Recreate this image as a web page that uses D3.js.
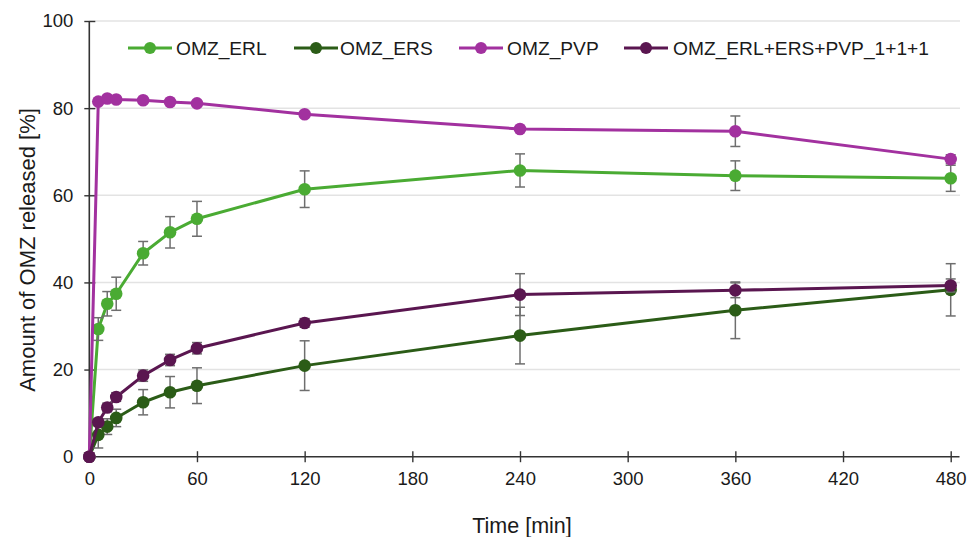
<!DOCTYPE html>
<html>
<head>
<meta charset="utf-8">
<script src="https://cdn.jsdelivr.net/npm/d3@7"></script>
<style>
  html, body { margin: 0; padding: 0; background: #fff; }
  svg { display: block; }
  text { font-family: "Liberation Sans", Arial, sans-serif; fill: #1a1a1a; }
</style>
</head>
<body>
<svg id="chart" width="968" height="537"></svg>
<script>
// ---- data ----
const times = [0, 5, 10, 15, 30, 45, 60, 120, 240, 360, 480];
const seriesNames = ["OMZ_ERL", "OMZ_ERS", "OMZ_PVP", "OMZ_ERL+ERS+PVP_1+1+1"];
const erlValues = [0, 29.3, 35.1, 37.4, 46.7, 51.5, 54.6, 61.4, 65.7, 64.5, 63.9];
const erlErrors = [0, 2.6, 2.8, 3.8, 2.7, 3.6, 4.0, 4.2, 3.8, 3.4, 3.0];
const ersValues = [0, 5.0, 6.9, 8.9, 12.5, 14.8, 16.3, 20.9, 27.8, 33.6, 38.3];
const ersErrors = [0, 3.0, 1.8, 2.0, 2.9, 3.6, 4.1, 5.7, 6.5, 6.5, 6.0];
const pvpValues = [0, 81.5, 82.2, 82.0, 81.8, 81.4, 81.1, 78.6, 75.2, 74.7, 68.3];
const pvpErrors = [0, 0.5, 0.4, 0.4, 0.4, 0.4, 0.4, 0.4, 0.4, 3.5, 1.0];
const mixValues = [0, 7.9, 11.3, 13.7, 18.6, 22.2, 24.9, 30.7, 37.2, 38.2, 39.3];
const mixErrors = [0, 0.8, 1.0, 1.0, 1.3, 1.3, 1.3, 1.0, 4.8, 1.7, 1.5];
const xTicks = [0, 60, 120, 180, 240, 300, 360, 420, 480];
const yTicks = [0, 20, 40, 60, 80, 100];
const xTitle = "Time [min]";
const yTitle = "Amount of OMZ released [%]";

// ---- styling ----
const colors = ["#4aab33", "#2b5c17", "#a2319f", "#5a1650"];
const series = seriesNames.map((name, i) => ({
  name,
  color: colors[i],
  values: [erlValues, ersValues, pvpValues, mixValues][i],
  errors: [erlErrors, ersErrors, pvpErrors, mixErrors][i]
}));

const svg = d3.select("#chart");
const x = d3.scaleLinear().domain([0, 480]).range([89.3, 950.7]);
const y = d3.scaleLinear().domain([0, 100]).range([456.7, 21]);

// gridlines
svg.append("g").selectAll("line")
  .data(yTicks.filter(d => d > 0))
  .join("line")
  .attr("x1", x(0)).attr("x2", 960)
  .attr("y1", d => y(d)).attr("y2", d => y(d))
  .attr("stroke", "#e3e3e3").attr("stroke-width", 1.5);

// x axis
const xAxis = svg.append("g").attr("transform", `translate(0,${y(0)})`)
  .call(d3.axisBottom(x).tickValues(xTicks).tickSize(0).tickPadding(15).tickFormat(d3.format("d")));
xAxis.select(".domain").remove();
xAxis.append("line").attr("x1", x(0)).attr("x2", 959.5).attr("stroke", "#333").attr("stroke-width", 1.6);
xAxis.selectAll(".tick").append("line").attr("y1", -5.5).attr("y2", 5.5).attr("stroke", "#333").attr("stroke-width", 1.4);
xAxis.selectAll(".tick text").attr("font-size", 18.5).attr("fill", "#1a1a1a")
  .attr("font-family", '"Liberation Sans", Arial, sans-serif');

// y axis
const yAxis = svg.append("g").attr("transform", `translate(${x(0)},0)`)
  .call(d3.axisLeft(y).tickValues(yTicks).tickSize(0).tickPadding(16).tickFormat(d3.format("d")));
yAxis.select(".domain").remove();
yAxis.append("line").attr("y1", y(0)).attr("y2", y(100)).attr("stroke", "#333").attr("stroke-width", 1.6);
yAxis.selectAll(".tick").append("line").attr("x1", -5).attr("x2", 6).attr("stroke", "#333").attr("stroke-width", 1.4);
yAxis.selectAll(".tick text").attr("font-size", 18.5).attr("fill", "#1a1a1a")
  .attr("font-family", '"Liberation Sans", Arial, sans-serif');

// titles
svg.append("text").attr("x", 522).attr("y", 533).attr("text-anchor", "middle")
  .attr("font-size", 21.5).text(xTitle);
svg.append("text").attr("transform", `translate(35,${250}) rotate(-90)`).attr("text-anchor", "middle")
  .attr("font-size", 22).text(yTitle);

const line = d3.line().x(d => x(d.t)).y(d => y(d.v));

series.forEach(s => {
  const pts = times.map((t, i) => ({ t, v: s.values[i], e: s.errors[i] }));
  const g = svg.append("g");
  g.append("path").datum(pts).attr("d", line).attr("fill", "none")
    .attr("stroke", s.color).attr("stroke-width", 3).attr("stroke-linejoin", "round");
  // error bars
  const eb = g.append("g").attr("stroke", "#6e6e6e").attr("stroke-width", 1.5);
  pts.filter(d => d.e > 0).forEach(d => {
    eb.append("line").attr("x1", x(d.t)).attr("x2", x(d.t)).attr("y1", y(d.v - d.e)).attr("y2", y(d.v + d.e));
    eb.append("line").attr("x1", x(d.t) - 5).attr("x2", x(d.t) + 5).attr("y1", y(d.v - d.e)).attr("y2", y(d.v - d.e));
    eb.append("line").attr("x1", x(d.t) - 5).attr("x2", x(d.t) + 5).attr("y1", y(d.v + d.e)).attr("y2", y(d.v + d.e));
  });
  g.selectAll("circle").data(pts).join("circle")
    .attr("cx", d => x(d.t)).attr("cy", d => y(d.v)).attr("r", 6.3)
    .attr("fill", s.color);
});

// legend
const legendPos = [[128, 176], [294, 340], [459, 507], [624, 673]];
const lg = svg.append("g");
series.forEach((s, i) => {
  const [lx, tx] = legendPos[i];
  const ly = 48;
  lg.append("line").attr("x1", lx).attr("x2", lx + 44).attr("y1", ly).attr("y2", ly)
    .attr("stroke", s.color).attr("stroke-width", 3);
  lg.append("circle").attr("cx", lx + 22).attr("cy", ly).attr("r", 6).attr("fill", s.color);
  lg.append("text").attr("x", tx).attr("y", ly + 6.8).attr("font-size", 19.2).text(s.name);
});
</script>
</body>
</html>
